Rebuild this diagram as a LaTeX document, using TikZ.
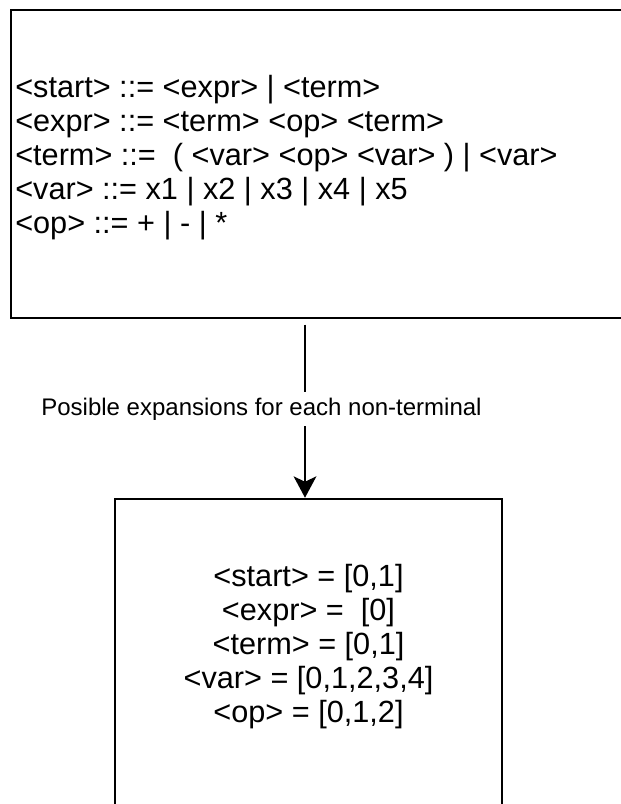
\documentclass[tikz,border=0pt]{standalone}
\usepackage{fontspec}
\setmainfont{Liberation Sans}
\usetikzlibrary{arrows.meta}
\begin{document}
\begin{tikzpicture}[x=0.75pt,y=-0.75pt,
  box/.style={draw=black, line width=1.9pt, inner sep=0pt},
  rule/.style={anchor=base west, inner sep=0pt, font=\fontsize{23pt}{25.5pt}\selectfont},
  code/.style={anchor=base, inner sep=0pt, font=\fontsize{23pt}{25.5pt}\selectfont},
  flow/.style={draw=black, line width=1.7pt, -{Stealth[length=16pt, width=17pt, inset=4pt]}},
  caption/.style={fill=white, inner xsep=2pt, inner ysep=0pt, anchor=base,
    text height=17.5pt, text depth=8pt, font=\fontsize{18pt}{21pt}\selectfont}]
\useasboundingbox (0,0) rectangle (621,804);
\clip (0,0) rectangle (621,804);
\fill[white] (0,0) rectangle (621,804);

% grammar box (runs past the right edge) and index box (runs past the bottom)
\node[box, minimum width=629*0.75pt, minimum height=308*0.75pt] (grammar) at (325.5,164) {};
\node[box, minimum width=387*0.75pt, minimum height=331*0.75pt] (codes) at (308.5,664.5) {};

% production rules
\node[rule] (r1) at (15,97.5)  {<start> ::= <expr> | <term>};
\node[rule] (r2) at (15,131.5) {<expr> ::= <term> <op> <term>};
\node[rule] (r3) at (15,165.5) {<term> ::= \ ( <var> <op> <var> ) | <var>};
\node[rule] (r4) at (15,199.5) {<var> ::= x1 | x2 | x3 | x4 | x5};
\node[rule] (r5) at (15,233.5) {<op> ::= + | - | *};

% expansion indices
\node[code] (c1) at (308.5,586) {<start> = [0,1]};
\node[code] (c2) at (308.5,620) {<expr> = \ [0]};
\node[code] (c3) at (308.5,654) {<term> = [0,1]};
\node[code] (c4) at (308.5,688) {<var> = [0,1,2,3,4]};
\node[code] (c5) at (308.5,722) {<op> = [0,1,2]};

% connector from the grammar to the indices
\coordinate (from) at ([yshift=-4pt]grammar.south -| 305,0);
\coordinate (to) at (codes.north -| 305,0);
\draw[flow] (from) -- (to);
\node[caption] (lbl) at (261.5,415) {Posible expansions for each non-terminal};
\end{tikzpicture}
\end{document}
